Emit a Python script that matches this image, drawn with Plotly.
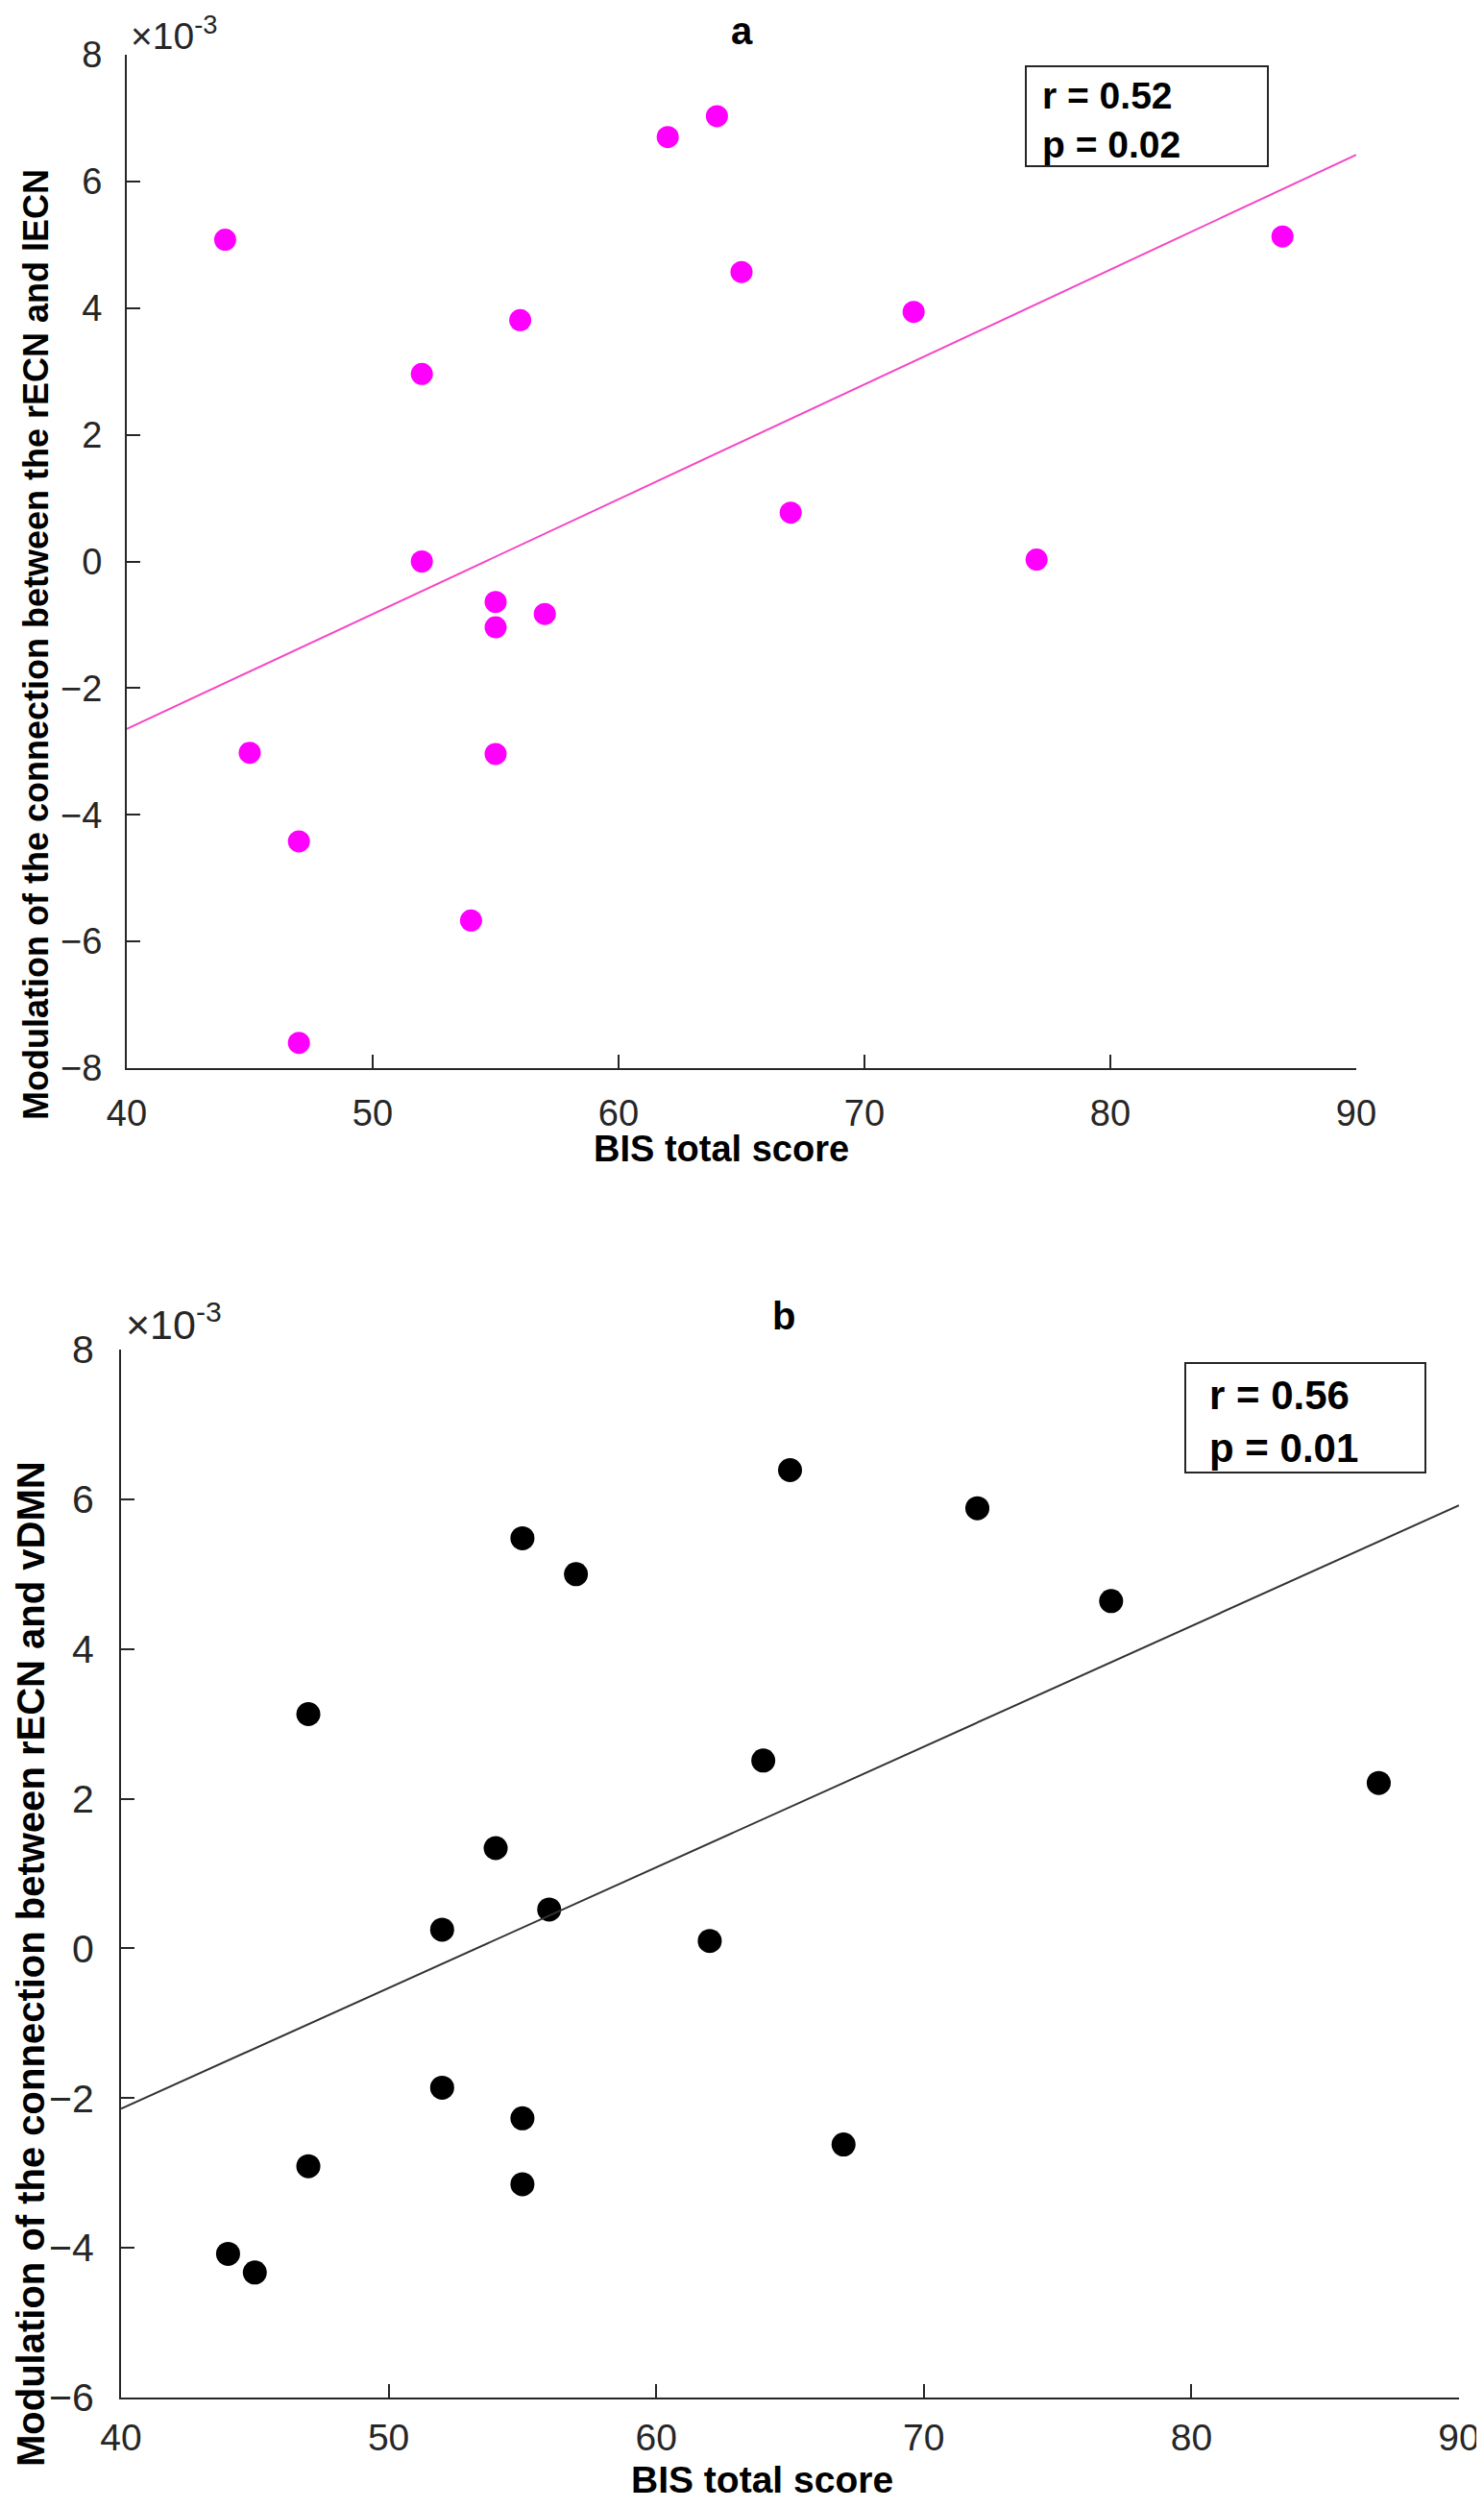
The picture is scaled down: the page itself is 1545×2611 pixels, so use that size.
import numpy as np
import plotly.graph_objects as go

W, H = 1545, 2611
OFF = 8  # page body margin, compensated in all placements

# BIS total score (same participants in both panels)
bis_score = [44, 45, 47, 47, 52, 52, 54, 55, 55, 55, 56, 57, 62, 64, 65, 67, 72, 77, 87]

# modulation values, in units of 10^-3
mod_recn_lecn = [5.08, -3.02, -4.42, -7.60, 2.96, 0.00, -5.67, -0.64, -1.04, -3.04,
                 3.81, -0.83, 6.70, 7.03, 4.57, 0.77, 3.94, 0.03, 5.13]
mod_recn_vdmn = [-4.08, -4.33, 3.13, -2.91, 0.25, -1.86, 1.34, 5.48, -2.27, -3.15,
                 0.52, 5.00, 0.10, 2.51, 6.39, -2.62, 5.88, 4.64, 2.21]

panel_titles = ["a", "b"]
r_values = ["0.52", "0.56"]
p_values = ["0.02", "0.01"]
x_title = "BIS total score"
y_titles = ["Modulation of the connection between the rECN and lECN",
            "Modulation of the connection between rECN and vDMN"]

FONT = "Liberation Sans"
AX = "#262626"


def px(x):
    return max(0, (x - OFF)) / W


def py(y):
    return 1 - max(0, (y - OFF)) / H


fig = go.Figure()

# panel a
fig.add_trace(go.Scatter(x=bis_score, y=mod_recn_lecn, mode="markers",
                         marker=dict(color="#ff00ff", size=23),
                         xaxis="x", yaxis="y"))
xs = np.array([40, 90])
k, b = np.polyfit(bis_score, mod_recn_lecn, 1)
fig.add_trace(go.Scatter(x=xs, y=k * xs + b, mode="lines",
                         line=dict(color="#f548c6", width=2),
                         xaxis="x", yaxis="y"))

# panel b
fig.add_trace(go.Scatter(x=bis_score, y=mod_recn_vdmn, mode="markers",
                         marker=dict(color="black", size=25),
                         xaxis="x2", yaxis="y2"))
k2, b2 = np.polyfit(bis_score, mod_recn_vdmn, 1)
fig.add_trace(go.Scatter(x=xs, y=k2 * xs + b2, mode="lines",
                         line=dict(color="#333333", width=2),
                         xaxis="x2", yaxis="y2"))


def axis_style(size, **kw):
    d = dict(showline=True, linecolor=AX, linewidth=2, ticks="inside", ticklen=14,
             tickwidth=2, tickcolor=AX, showgrid=False, zeroline=False,
             automargin=False,
             tickfont=dict(family=FONT, size=size, color=AX))
    d.update(kw)
    return d


fig.update_layout(
    width=W, height=H,
    margin=dict(l=0, r=0, t=0, b=0, autoexpand=False),
    paper_bgcolor="white", plot_bgcolor="white",
    showlegend=False,
    xaxis=axis_style(38, domain=[px(132), px(1412)], range=[40, 90], dtick=10,
                     anchor="y", ticklabelstandoff=12),
    yaxis=axis_style(38, domain=[py(1112), py(57)], range=[-8, 8], dtick=2,
                     anchor="x", ticklabelstandoff=16),
    xaxis2=axis_style(39, domain=[px(126), px(1519)], range=[40, 90], dtick=10,
                      anchor="y2", ticklabelstandoff=6),
    yaxis2=axis_style(41, domain=[py(2496), py(1405)], range=[-6, 8], dtick=2,
                      anchor="x2", ticklabelstandoff=18),
)

ann = []
# panel titles
ann.append(dict(x=px(772), y=1, yanchor="top",
                text="<b>" + panel_titles[0] + "</b>", font=dict(size=40)))
ann.append(dict(x=px(816), y=py(1370), text="<b>" + panel_titles[1] + "</b>", font=dict(size=40)))
# x axis titles
ann.append(dict(x=px(751), y=py(1196), text="<b>" + x_title + "</b>", font=dict(size=38)))
ann.append(dict(x=px(794), y=py(2605), yanchor="bottom",
                text="<b>" + x_title + "</b>", font=dict(size=39)))
# y axis titles
ann.append(dict(x=px(37), y=py(671), text="<b>" + y_titles[0] + "</b>",
                textangle=-90, font=dict(size=36)))
ann.append(dict(x=0, y=py(2045), xanchor="left", text="<b>" + y_titles[1] + "</b>",
                textangle=-90, font=dict(size=40)))
# exponent labels
ann.append(dict(x=px(134), y=1, xanchor="left", yanchor="top",
                text="\u00d710<sup>-3</sup>", font=dict(size=39, color=AX)))
ann.append(dict(x=px(129), y=py(1376), text="\u00d710<sup>-3</sup>", xanchor="left",
                font=dict(size=43, color=AX)))
# statistics boxes
ann.append(dict(x=px(1083), y=py(125), xanchor="left", align="left",
                text="<b>r = " + r_values[0] + "<br>p = " + p_values[0] + "</b>",
                font=dict(size=39)))
ann.append(dict(x=px(1257), y=py(1480), xanchor="left", align="left",
                text="<b>r = " + r_values[1] + "<br>p = " + p_values[1] + "</b>",
                font=dict(size=42)))

for a in ann:
    a.setdefault("xanchor", "center")
    a.setdefault("yanchor", "middle")
    a["xref"] = "paper"
    a["yref"] = "paper"
    a["showarrow"] = False
    f = a["font"]
    f.setdefault("family", FONT)
    f.setdefault("color", "black")
fig.update_layout(annotations=ann)

fig.add_shape(type="rect", xref="paper", yref="paper",
              x0=px(1068), x1=px(1320), y0=py(173), y1=py(69),
              line=dict(color=AX, width=2))
fig.add_shape(type="rect", xref="paper", yref="paper",
              x0=px(1234), x1=px(1484), y0=py(1533), y1=py(1419),
              line=dict(color=AX, width=2))

fig.write_html("out.html")
